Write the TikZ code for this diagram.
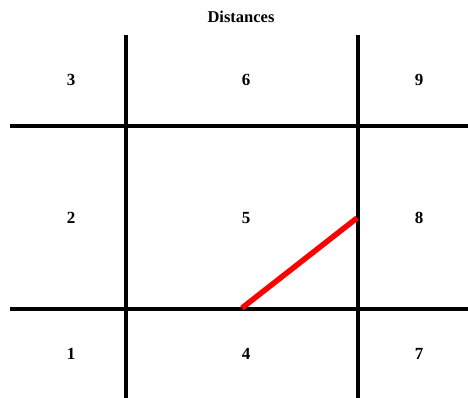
\documentclass[tikz,border=0pt]{standalone}
\usepackage{fontspec}
\setmainfont{Liberation Serif}
\begin{document}
\begin{tikzpicture}[x=1pt,y=-1pt,
  gridline/.style={line width=3.6pt,black},
  distline/.style={line width=5.5pt,red},
  lab/.style={font=\fontsize{17}{20}\selectfont\bfseries},
  ttl/.style={font=\fontsize{16.5}{20}\selectfont\bfseries}]
\useasboundingbox (0,0) rectangle (468,398);
\node[ttl] (title) at (241,17) {Distances};
% grid endpoints
\coordinate (v1t) at (126,35);
\coordinate (v1b) at (126,398);
\coordinate (v2t) at (358,35);
\coordinate (v2b) at (358,398);
\coordinate (h1l) at (10,126);
\coordinate (h1r) at (468,126);
\coordinate (h2l) at (10,309);
\coordinate (h2r) at (468,309);
\draw[gridline] (v1t) -- (v1b);
\draw[gridline] (v2t) -- (v2b);
\draw[gridline] (h1l) -- (h1r);
\draw[gridline] (h2l) -- (h2r);
% labels
\node[lab] (n3) at (71,80) {3};
\node[lab] (n6) at (246,80) {6};
\node[lab] (n9) at (419,80) {9};
\node[lab] (n2) at (71,218) {2};
\node[lab] (n5) at (246,218) {5};
\node[lab] (n8) at (419,218) {8};
\node[lab] (n1) at (71,354) {1};
\node[lab] (n4) at (246,354) {4};
\node[lab] (n7) at (419,354) {7};
% distance segment
\coordinate (ra) at (242,308);
\coordinate (rb) at (357,218);
\draw[distline] (ra) -- (rb);
\end{tikzpicture}
\end{document}
